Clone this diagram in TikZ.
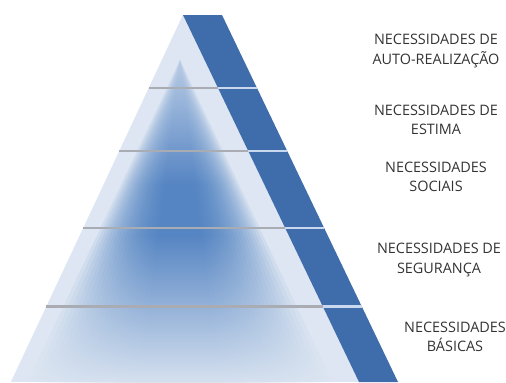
\documentclass[tikz,border=0pt]{standalone}
\usepackage{fontspec}
\setmainfont{Open Sans}
\usepackage{tikz}
\usetikzlibrary{positioning, fadings}
\definecolor{pyrlight}{HTML}{DDE6F2}
\definecolor{pyrglow}{HTML}{4479C0}
\definecolor{pyrband}{HTML}{3F6DAB}
\definecolor{tiergray}{HTML}{A9ADB3}
\definecolor{bandline}{HTML}{C9D8EE}
\definecolor{labelgray}{HTML}{333333}
\tikzfading[name=fadetop, top color=transparent!0, middle color=transparent!35,
  bottom color=transparent!100]
\tikzfading[name=fadebottom, top color=transparent!100, bottom color=transparent!5]

\begin{document}
\begin{tikzpicture}[
  x=0.02cm, y=-0.02cm,
  every node/.style={font=\fontsize{8.2}{11}\selectfont},
  tierlabel/.style={text=labelgray, align=center, inner sep=0pt},
  glowlayer/.style={fill=pyrglow, fill opacity=0.09},
  tierline/.style={draw=tiergray, line width=1.7pt},
  bandsep/.style={draw=bandline, line width=1.7pt}
]
\useasboundingbox (0,0) rectangle (506,382);

%% Pyramid body with its blue glow
\begin{scope}
  \clip (183,15) -- (11,382) -- (359,382) -- cycle;
  \fill[pyrlight] (0,0) rectangle (506,382);
  \foreach \k in {0,...,19} {
    \pgfmathsetmacro\hw{150*(1.3-0.05*\k)}
    \fill[glowlayer] (180,60) -- ({180-\hw},472) -- ({180+\hw},472) -- cycle;
  }
  % lighten towards the top and the base
  \fill[pyrlight, path fading=fadetop] (0,15) rectangle (506,185);
  \fill[pyrlight, path fading=fadebottom] (0,235) rectangle (506,382);
\end{scope}

%% Dark side band
\fill[pyrband] (183,15) -- (222,15) -- (398,382) -- (359,382) -- cycle;

%% Tier separators
\foreach \y in {88,151,228,306} {
  \draw[tierline] ({183-0.47*(\y-15)},\y) -- ({183+0.48*(\y-15)},\y);
  \draw[bandsep] ({183+0.48*(\y-15)},\y) -- ({222+0.48*(\y-15)},\y);
}

%% Tier labels
\node[tierlabel] (autorealizacao) at (436,51)
  {NECESSIDADES DE\\AUTO-REALIZAÇÃO};
\node[tierlabel] (estima) at (436,120)
  {NECESSIDADES DE\\ESTIMA};
\node[tierlabel] (sociais) at (436,177)
  {NECESSIDADES\\SOCIAIS};
\node[tierlabel] (seguranca) at (439,260)
  {NECESSIDADES DE\\SEGURANÇA};
\node[tierlabel] (basicas) at (455,337)
  {NECESSIDADES\\BÁSICAS};

\end{tikzpicture}
\end{document}
